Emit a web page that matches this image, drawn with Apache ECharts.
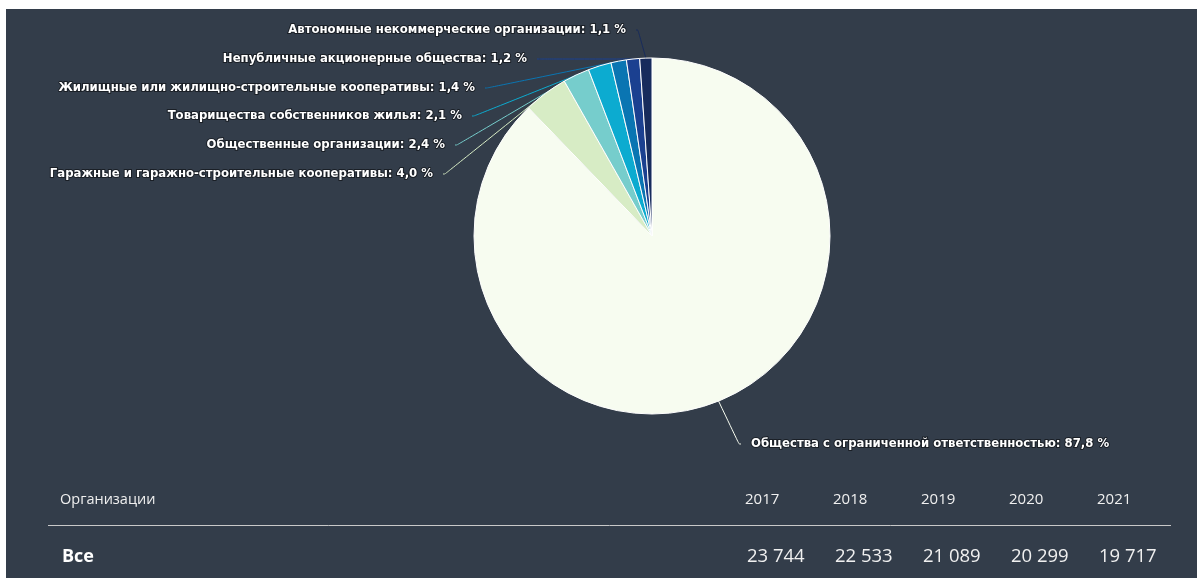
<!DOCTYPE html>
<html><head><meta charset="utf-8">
<style>html,body{margin:0;padding:0;background:#fff;}#c{width:1197px;height:578px;}</style>
<script src="https://cdn.jsdelivr.net/npm/echarts@6/dist/echarts.min.js"></script>
</head><body><div id="c"></div>
<script>
const categories = [
  'Общества с ограниченной ответственностью',
  'Гаражные и гаражно-строительные кооперативы',
  'Общественные организации',
  'Товарищества собственников жилья',
  'Жилищные или жилищно-строительные кооперативы',
  'Непубличные акционерные общества',
  'Автономные некоммерческие организации'
];
const shares = [87.8, 4.0, 2.4, 2.1, 1.4, 1.2, 1.1];
const years = ['2017', '2018', '2019', '2020', '2021'];
const totals = [23744, 22533, 21089, 20299, 19717];
const rowLabel = 'Все';
const headLabel = 'Организации';

const colors = ['#f7fcf0', '#d7ecc5', '#76cdcc', '#0cabd0', '#0a75b2', '#1b4090', '#172b5c'];
// label anchor positions (layout only, include 10px padding)
const labelPos = [
  {x: 741, y: 444, align: 'left'},
  {x: 443, y: 174, align: 'right'},
  {x: 455, y: 145, align: 'right'},
  {x: 472, y: 116, align: 'right'},
  {x: 485, y: 88, align: 'right'},
  {x: 537, y: 59, align: 'right'},
  {x: 636, y: 30, align: 'right'}
];

function fmtNum(v){ return String(v).replace(/\B(?=(\d{3})+(?!\d))/g, ' '); }

const chart = echarts.init(document.getElementById('c'), null, {renderer: 'canvas'});
const graphics = [
  {type: 'rect', z: -10, shape: {x: 6, y: 9, width: 1191, height: 569}, style: {fill: '#333d4a'}},
  {type: 'line', shape: {x1: 48, y1: 525.5, x2: 1171, y2: 525.5}, style: {stroke: '#c9c9c9', lineWidth: 1}},
  {type: 'text', x: 60, y: 500, style: {text: headLabel, fill: '#f0f0f0', font: '14.5px "Open Sans", sans-serif', verticalAlign: 'middle'}},
  {type: 'text', x: 62, y: 557, style: {text: rowLabel, fill: '#ffffff', font: 'bold 18px "Open Sans", sans-serif', verticalAlign: 'middle'}}
];
years.forEach((y, i) => {
  graphics.push({type: 'text', x: 745 + 88 * i, y: 500, style: {text: y, fill: '#f0f0f0', font: '15px "Open Sans", sans-serif', verticalAlign: 'middle'}});
});
totals.forEach((v, i) => {
  graphics.push({type: 'text', x: 747 + 88 * i, y: 557, style: {text: fmtNum(v), fill: '#f0f0f0', font: '18.5px "Open Sans", sans-serif', verticalAlign: 'middle'}});
});

chart.setOption({
  backgroundColor: '#ffffff',
  animation: false,
  graphic: graphics,
  series: [{
    type: 'pie',
    center: [652, 236],
    radius: 178,
    startAngle: 90,
    clockwise: true,
    data: categories.map((n, i) => ({name: n, value: shares[i], itemStyle: {color: colors[i]}, labelLine: {lineStyle: {color: colors[i]}}})),
    itemStyle: {borderColor: '#ffffff', borderWidth: 1},
    label: {
      formatter: p => p.name + ': ' + p.value.toFixed(1).replace('.', ',') + ' %',
      color: '#ffffff',
      fontFamily: '"DejaVu Sans Condensed", "DejaVu Sans"',
      fontWeight: 'bold',
      fontSize: 13,
      padding: [0, 10, 0, 10],
      backgroundColor: 'rgba(0,0,0,0)',
      textBorderColor: '#1a1f26',
      textBorderWidth: 2
    },
    labelLine: {show: true, length: 6, length2: 2, smooth: 0.25, lineStyle: {width: 1}},
    labelLayout: function (params) {
      const p = labelPos[params.dataIndex];
      return {x: p.x, y: p.y, align: p.align, verticalAlign: 'middle'};
    }
  }]
});
</script></body></html>
